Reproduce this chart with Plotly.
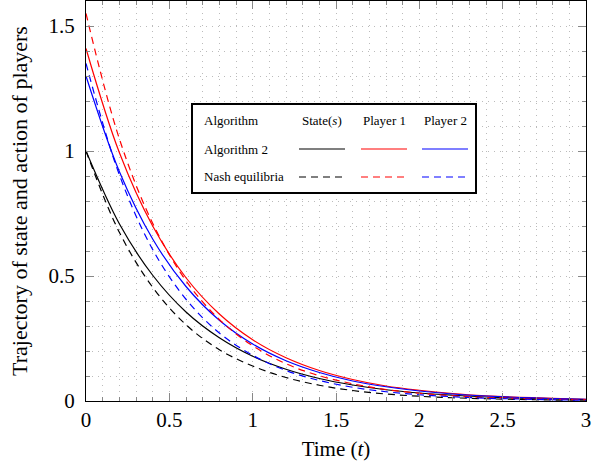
import plotly.graph_objects as go

# Temps (t) et trajectoires
t = [0.0, 0.2, 0.4, 0.6, 0.8, 1.0, 1.2, 1.4, 1.6, 1.8, 2.0, 2.2, 2.4, 2.6, 2.8, 3.0]

state_alg = [1.0, 0.709, 0.503, 0.356, 0.253, 0.179, 0.127, 0.090, 0.064, 0.045,
             0.032, 0.023, 0.016, 0.011, 0.008, 0.006]
p1_alg = [1.41, 0.994, 0.700, 0.493, 0.348, 0.245, 0.173, 0.122, 0.086, 0.060,
          0.043, 0.030, 0.021, 0.015, 0.011, 0.007]
p2_alg = [1.30, 0.918, 0.648, 0.458, 0.323, 0.228, 0.161, 0.114, 0.080, 0.057,
          0.040, 0.028, 0.020, 0.014, 0.010, 0.007]

state_nash = [1.0, 0.675, 0.455, 0.305, 0.205, 0.140, 0.094, 0.063, 0.042, 0.028,
              0.019, 0.013, 0.009, 0.006, 0.004, 0.003]
p1_nash = [1.55, 1.049, 0.711, 0.481, 0.326, 0.221, 0.149, 0.101, 0.069, 0.046,
           0.031, 0.021, 0.014, 0.010, 0.007, 0.005]
p2_nash = [1.35, 0.905, 0.606, 0.407, 0.272, 0.183, 0.122, 0.082, 0.055, 0.037,
           0.025, 0.017, 0.011, 0.008, 0.005, 0.003]

col_labels = ["State(<i>s</i>)", "Player 1", "Player 2"]
row_labels = ["Algorithm 2", "Nash equilibria"]
colors = ["black", "red", "blue"]

FONT = "Liberation Serif"
DASH = "7px,5px"

fig = go.Figure()

series = [
    (state_alg, "black", "solid"), (p1_alg, "red", "solid"), (p2_alg, "blue", "solid"),
    (state_nash, "black", DASH), (p1_nash, "red", DASH), (p2_nash, "blue", DASH),
]
for ys, c, d in series:
    fig.add_trace(go.Scatter(
        x=t, y=ys, mode="lines", showlegend=False,
        line=dict(color=c, width=1.2, dash=d, shape="spline"),
    ))

# Légende en tableau (coordonnées papier)
x0, x1, y0, y1 = 0.212, 0.780, 0.52, 0.7425
shapes = [dict(type="rect", xref="paper", yref="paper", x0=x0, x1=x1, y0=y0, y1=y1,
               line=dict(color="black", width=2), fillcolor="white", layer="above")]
annotations = []
row_y = [0.7025, 0.630, 0.560]
col_x = [0.472, 0.596, 0.718]
annotations.append(dict(text="Algorithm", x=0.232, y=row_y[0], xref="paper", yref="paper",
                        xanchor="left", yanchor="middle", showarrow=False))
for i, lab in enumerate(col_labels):
    annotations.append(dict(text=lab, x=col_x[i], y=row_y[0], xref="paper", yref="paper",
                            xanchor="center", yanchor="middle", showarrow=False))
for j, lab in enumerate(row_labels):
    annotations.append(dict(text=lab, x=0.232, y=row_y[j + 1], xref="paper", yref="paper",
                            xanchor="left", yanchor="middle", showarrow=False))
    for i, c in enumerate(colors):
        shapes.append(dict(type="line", xref="paper", yref="paper",
                           x0=col_x[i] - 0.046, x1=col_x[i] + 0.046,
                           y0=row_y[j + 1], y1=row_y[j + 1], layer="above",
                           line=dict(color=c, width=1.2, dash="solid" if j == 0 else DASH)))
for a in annotations:
    a["font"] = dict(family=FONT, size=13, color="black")

axis_common = dict(
    showline=True, linecolor="black", linewidth=1, mirror="ticks", automargin=False,
    ticks="inside", ticklen=8, tickcolor="#888888", tickwidth=1,
    showgrid=True, gridcolor="#bbbbbb", griddash="1px,5px", gridwidth=1,
    zeroline=False, tickfont=dict(family=FONT, size=21, color="black"),
    minor=dict(ticks="inside", ticklen=4, tickcolor="#888888", dtick=0.1,
               showgrid=True, gridcolor="#bbbbbb", griddash="1px,5px", gridwidth=1),
)

fig.update_layout(
    width=603, height=467,
    margin=dict(l=86, r=17, t=1, b=66),
    plot_bgcolor="white", paper_bgcolor="white",
    font=dict(family=FONT, color="black"),
    shapes=shapes, annotations=annotations,
    xaxis=dict(range=[0, 3], dtick=0.5, tick0=0, ticklabelstandoff=0,
               title=dict(text="Time (<i>t</i>)", font=dict(family=FONT, size=21), standoff=10),
               **axis_common),
    yaxis=dict(range=[0, 1.6], dtick=0.5, tick0=0, ticklabelstandoff=6,
               title=dict(text="Trajectory of state and action of players",
                          font=dict(family=FONT, size=22), standoff=14),
               **axis_common),
)

# pas de marge de page autour du graphique, pas de barre d'outils
fig.write_html("out.html", config={"displayModeBar": False},
               post_script="document.body.style.margin='0';")
